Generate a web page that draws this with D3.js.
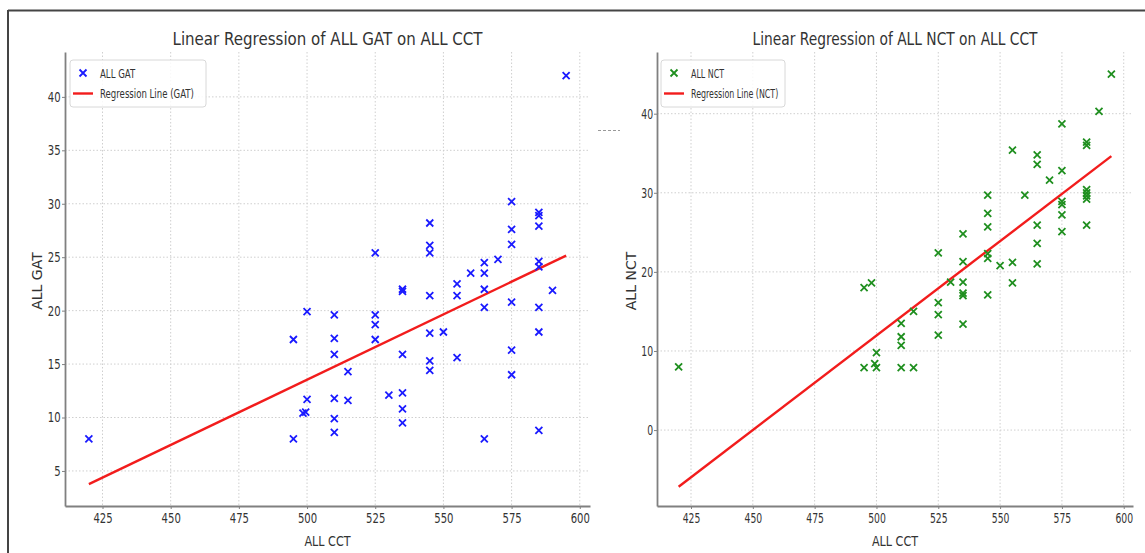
<!DOCTYPE html>
<html>
<head>
<meta charset="utf-8">
<script src="https://cdn.jsdelivr.net/npm/d3@7"></script>
<style>
body { margin: 0; background: #fff; }
svg { display: block; font-family: "DejaVu Sans", sans-serif; }
</style>
</head>
<body>
<svg id="svg" width="1145" height="553"></svg>
<script>

// values

var xTicks = [425, 450, 475, 500, 525, 550, 575, 600];
var gatTicks = [5, 10, 15, 20, 25, 30, 35, 40];
var nctTicks = [0, 10, 20, 30, 40];

var gatCct = [420, 495, 495, 500, 500, 498.5, 499.5, 510, 510, 510, 510, 510, 510, 515, 515,
    525, 525, 525, 525, 530, 535, 535, 535, 535, 535, 535, 545, 545, 545, 545, 545, 545, 545,
    550, 555, 555, 555, 560, 565, 565, 565, 565, 565, 570, 575, 575, 575, 575, 575, 575,
    585, 585, 585, 585, 585, 585, 585, 585, 590, 595];
var gatVal = [8, 17.3, 8, 19.9, 11.7, 10.4, 10.5, 19.6, 17.4, 15.9, 11.8, 9.9, 8.6, 14.3, 11.6,
    25.4, 19.6, 18.7, 17.3, 12.1, 22.0, 21.8, 15.9, 12.3, 10.8, 9.5, 28.2, 26.1, 25.4, 21.4, 17.9, 15.3, 14.4,
    18.0, 22.5, 21.4, 15.6, 23.5, 24.5, 23.5, 22.0, 20.3, 8.0, 24.8, 30.2, 27.6, 26.2, 20.8, 16.3, 14.0,
    29.2, 28.9, 27.9, 24.6, 24.1, 20.3, 18.0, 8.8, 21.9, 42];

var nctCct = [420, 495, 498, 495, 499.3, 500, 500, 510, 510, 510, 510, 515, 515,
    525, 525, 525, 525, 530, 535, 535, 535, 535, 535, 535, 545, 545, 545, 545, 545, 545,
    550, 555, 555, 555, 560, 565, 565, 565, 565, 565, 570, 575, 575, 575, 575, 575, 575,
    585, 585, 585, 585, 585, 585, 585, 590, 595];
var nctVal = [8, 18, 18.6, 7.9, 8.4, 9.8, 7.9, 13.5, 11.8, 10.7, 7.9, 15, 7.9,
    22.4, 16.1, 14.6, 12, 18.7, 24.8, 21.3, 18.7, 17.3, 17, 13.4, 29.7, 27.4, 25.7, 22.3, 21.7, 17.1,
    20.8, 35.4, 21.2, 18.6, 29.7, 34.8, 33.6, 25.9, 23.6, 21, 31.6, 38.7, 32.8, 28.9, 28.5, 27.2, 25.1,
    36.4, 36, 30.4, 30, 29.6, 29.2, 25.9, 40.3, 45];

// regression line end points
var lineCct = [420, 595];
var gatLineVal = [3.76, 25.15];
var nctLineVal = [-7.16, 34.64];

//////////////////////////////////////////////////////////////////////////////

var svg = d3.select("#svg");

// outer frame of the screenshot
svg.append("line").attr("x1", 8).attr("x2", 1145).attr("y1", 10.5).attr("y2", 10.5)
    .attr("stroke", "#444").attr("stroke-width", 2);
svg.append("line").attr("x1", 8).attr("x2", 8).attr("y1", 10).attr("y2", 553)
    .attr("stroke", "#444").attr("stroke-width", 2);

// stray dashes between the two plots
svg.append("line").attr("x1", 598).attr("x2", 620).attr("y1", 130.5).attr("y2", 130.5)
    .attr("stroke", "#999").attr("stroke-width", 1).attr("stroke-dasharray", "3,2");

var markerPath = "M-3.5,-3.5L3.5,3.5M-3.5,3.5L3.5,-3.5";

function drawPanel(p)
{
    var g = svg.append("g");
    var x = d3.scaleLinear().domain([411.25, 603.75]).range([p.left, p.right]);
    var y = d3.scaleLinear().domain(p.yDomain).range([p.bottom, p.top]);

    // grid
    g.selectAll(".vgrid").data(xTicks).enter().append("line")
        .attr("x1", function(d) { return x(d); }).attr("x2", function(d) { return x(d); })
        .attr("y1", p.top).attr("y2", p.bottom)
        .attr("stroke", "#cfcfcf").attr("stroke-width", 1).attr("stroke-dasharray", "1.5,2");
    g.selectAll(".hgrid").data(p.yTicks).enter().append("line")
        .attr("x1", p.left).attr("x2", p.right)
        .attr("y1", function(d) { return y(d); }).attr("y2", function(d) { return y(d); })
        .attr("stroke", "#cfcfcf").attr("stroke-width", 1).attr("stroke-dasharray", "1.5,2");

    // axes
    var gx = g.append("g").attr("transform", "translate(0," + p.bottom + ")")
        .call(d3.axisBottom(x).tickValues(xTicks).tickSize(3).tickSizeOuter(0).tickPadding(4));
    var gy = g.append("g").attr("transform", "translate(" + p.left + ",0)")
        .call(d3.axisLeft(y).tickValues(p.yTicks).tickSize(3).tickSizeOuter(0).tickPadding(3));
    [gx, gy].forEach(function(a) {
        a.attr("font-size", 14).attr("font-family", "DejaVu Sans, sans-serif");
        a.select(".domain").attr("stroke", "#808080").attr("stroke-width", 1.8);
        a.selectAll(".tick line").attr("stroke", "#808080");
        a.selectAll("text").attr("fill", "#333").attr("transform", "scale(" + p.sx + ",1)");
    });

    // regression line
    var line = d3.line()
        .x(function(d) { return x(d[0]); })
        .y(function(d) { return y(d[1]); });
    g.append("path").datum(d3.zip(lineCct, p.lineVal))
        .attr("d", line).attr("fill", "none")
        .attr("stroke", "#f21c1c").attr("stroke-width", 2.4);

    // points
    g.selectAll(".pt").data(d3.zip(p.xs, p.ys)).enter().append("path")
        .attr("d", markerPath)
        .attr("transform", function(d) { return "translate(" + x(d[0]) + "," + y(d[1]) + ")"; })
        .attr("stroke", p.color).attr("stroke-width", 1.8).attr("fill", "none");

    // titles
    var cx = (p.left + p.right) / 2;
    g.append("text").attr("x", cx).attr("y", 45).attr("text-anchor", "middle")
        .attr("font-size", 18).attr("fill", "#333")
        .attr("textLength", p.titleLen).attr("lengthAdjust", "spacingAndGlyphs")
        .text(p.title);
    g.append("text").attr("transform", "translate(" + cx + ",546) scale(0.8,1)")
        .attr("text-anchor", "middle").attr("font-size", 14).attr("fill", "#333")
        .text("ALL CCT");
    g.append("text").attr("transform", "translate(" + p.ylabX + ",281) rotate(-90)")
        .attr("text-anchor", "middle").attr("font-size", 14).attr("fill", "#333")
        .text(p.ylabel);

    // legend
    var lg = g.append("g").attr("transform", "translate(" + p.legX + ",60)");
    lg.append("rect").attr("x", 0).attr("y", 0).attr("width", p.legW).attr("height", 47)
        .attr("rx", 3).attr("fill", "#fff").attr("fill-opacity", 0.85)
        .attr("stroke", "#d8d8d8").attr("stroke-width", 1);
    lg.append("path").attr("d", markerPath).attr("transform", "translate(13,13)")
        .attr("stroke", p.color).attr("stroke-width", 1.8).attr("fill", "none");
    lg.append("line").attr("x1", 3).attr("x2", 23).attr("y1", 33.5).attr("y2", 33.5)
        .attr("stroke", "#f21c1c").attr("stroke-width", 2.4);
    lg.append("text").attr("transform", "translate(30,17.5) scale(" + p.lsx + ",1)")
        .attr("font-size", 13).attr("fill", "#333").text(p.legend1);
    lg.append("text").attr("transform", "translate(30,38) scale(" + p.lsx + ",1)")
        .attr("font-size", 13).attr("fill", "#333").text(p.legend2);
}

drawPanel({
    left: 65, right: 590, top: 52, bottom: 506,
    yDomain: [1.72, 44.2], yTicks: gatTicks,
    xs: gatCct, ys: gatVal, lineVal: gatLineVal,
    color: "#1a1aff", sx: 0.72, lsx: 0.66,
    title: "Linear Regression of ALL GAT on ALL CCT", titleLen: 310,
    ylabel: "ALL GAT", ylabX: 42,
    legX: 70, legW: 136,
    legend1: "ALL GAT", legend2: "Regression Line (GAT)"
});

drawPanel({
    left: 657, right: 1133, top: 52, bottom: 506,
    yDomain: [-9.6, 47.8], yTicks: nctTicks,
    xs: nctCct, ys: nctVal, lineVal: nctLineVal,
    color: "#1f8f1f", sx: 0.66, lsx: 0.61,
    title: "Linear Regression of ALL NCT on ALL CCT", titleLen: 285,
    ylabel: "ALL NCT", ylabX: 636,
    legX: 661, legW: 124,
    legend1: "ALL NCT", legend2: "Regression Line (NCT)"
});

</script>
</body>
</html>
